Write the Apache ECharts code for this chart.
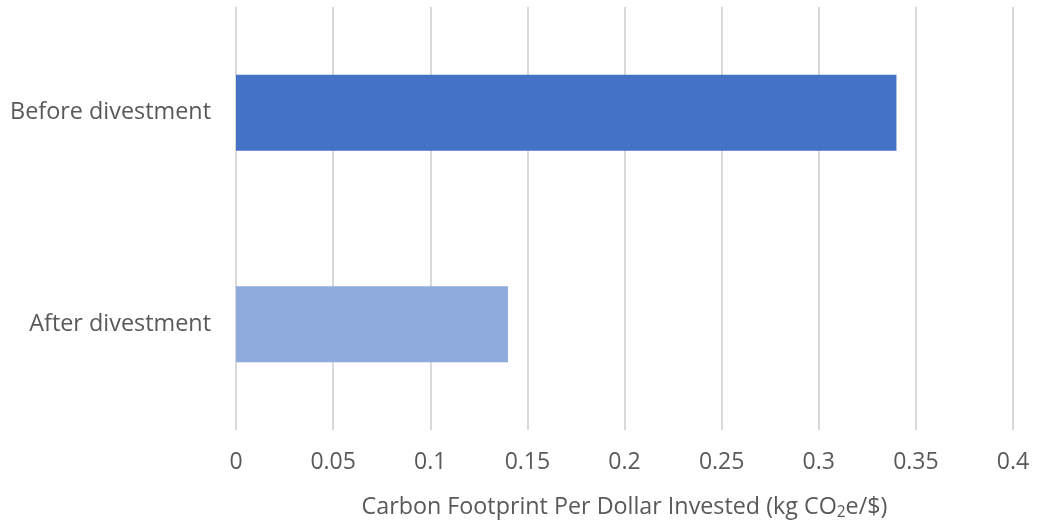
<!DOCTYPE html>
<html>
<head>
<meta charset="utf-8">
<script src="https://cdn.jsdelivr.net/npm/echarts@6/dist/echarts.min.js"></script>
<style>
  html, body { margin: 0; padding: 0; background: #fff; }
  #chart { width: 1039px; height: 526px; }
</style>
</head>
<body>
<div id="chart"></div>
<script>
// Carbon footprint per dollar invested, before and after divestment
const categories = ['Before divestment', 'After divestment'];
const footprint = [0.34, 0.14];
const barColors = ['#4472C4', '#8FAADC'];
const xTicks = { min: 0, max: 0.4, interval: 0.05 };

const font = '"Open Sans", "Noto Sans", sans-serif';
const textColor = '#595959';

const chart = echarts.init(document.getElementById('chart'), null, { renderer: 'canvas' });
chart.setOption({
  animation: false,
  backgroundColor: '#ffffff',
  grid: { left: 236, right: 26, top: 7, bottom: 96, containLabel: false },
  xAxis: {
    type: 'value',
    min: xTicks.min,
    max: xTicks.max,
    interval: xTicks.interval,
    axisLine: { show: false },
    axisTick: { show: false },
    splitLine: { show: true, lineStyle: { color: '#d9d9d9', width: 2 } },
    axisLabel: {
      color: textColor, fontFamily: font, fontSize: 23, margin: 21,
      formatter: v => String(+v.toFixed(2))
    },
    name: '{t|Carbon Footprint Per Dollar Invested (kg CO}{s|2}{t|e/$)}',
    nameLocation: 'middle',
    nameGap: 63,
    nameTextStyle: {
      rich: {
        t: { color: textColor, fontFamily: font, fontSize: 23.3 },
        s: { color: textColor, fontFamily: font, fontSize: 15.5, padding: [12, 0, 0, 0] }
      }
    }
  },
  yAxis: {
    type: 'category',
    data: categories,
    inverse: true,
    axisLine: { show: false },
    axisTick: { show: false },
    splitLine: { show: false },
    axisLabel: { color: textColor, fontFamily: font, fontSize: 23.4, margin: 25 }
  },
  series: [{
    type: 'bar',
    barWidth: '36%',
    data: footprint.map((v, i) => ({ value: v, itemStyle: { color: barColors[i] } }))
  }]
});
</script>
</body>
</html>
